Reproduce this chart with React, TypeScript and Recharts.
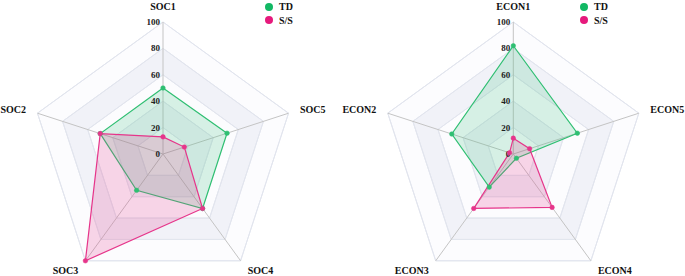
import React from 'react';
import { RadarChart, Radar, PolarGrid, PolarAngleAxis, PolarRadiusAxis, Legend } from 'recharts';

// categories listed clockwise from the top, as drawn
const socCategories = ['SOC1', 'SOC5', 'SOC4', 'SOC3', 'SOC2'];
const socTD = [50, 51, 51, 34, 50];
const socSS = [13, 17, 51, 100, 50];

const econCategories = ['ECON1', 'ECON5', 'ECON4', 'ECON3', 'ECON2'];
const econTD = [82, 51, 4, 31, 49];
const econSS = [12, 13, 50, 51, 3];

const radiusTicks = [0, 20, 40, 60, 80, 100];
const bandLevels = [100, 80, 60, 40, 20];
const seriesNames = ['TD', 'S/S'];

const GREEN = '#2fbf72';
const PINK = '#e6358a';
const LEG_GREEN = '#12b864';
const LEG_PINK = '#e6197c';
const BAND_DARK = '#f1f2f8';
const BAND_LIGHT = '#fcfcfe';
const GRID = '#e2e5ee';
const FONT = '"Liberation Serif", "Times New Roman", serif';

const R = 132;
const CY = 154;

function buildRows(cats: string[], a: number[], b: number[]) {
  return cats.map((c, i) => ({ name: c, TD: a[i], SS: b[i] }));
}

const AngleTick = (props: any) => {
  const { x, y, payload, ccx, ccy } = props;
  const dx = x - ccx;
  const dy = y - ccy;
  const len = Math.hypot(dx, dy) || 1;
  const ux = dx / len;
  const uy = dy / len;
  const rr = R + 12;
  const px = ccx + ux * rr;
  const py = ccy + uy * rr;
  const anchor = Math.abs(ux) < 0.1 ? 'middle' : ux > 0 ? 'start' : 'end';
  const baseline = uy < -0.9 ? 'auto' : 'central';
  return (
    <text x={px} y={py} textAnchor={anchor} dominantBaseline={baseline}
      fontFamily={FONT} fontWeight="bold" fontSize={10} fill="#111">
      {payload.value}
    </text>
  );
};

const RadiusTick = (props: any) => {
  const { x, y, payload } = props;
  return (
    <text x={x - 3} y={y} textAnchor="end" dominantBaseline="central"
      fontFamily={FONT} fontWeight="bold" fontSize={9} fill="#222">
      {payload.value}
    </text>
  );
};

const LegendContent = () => (
  <div style={{ fontFamily: FONT, fontWeight: 'bold', fontSize: 10, color: '#111', lineHeight: '13.5px' }}>
    {seriesNames.map((n, i) => (
      <div key={n} style={{ display: 'flex', alignItems: 'center', height: 13.5 }}>
        <svg width={10} height={10} style={{ marginRight: 5 }}>
          <circle cx={5} cy={5} r={4} fill={i === 0 ? LEG_GREEN : LEG_PINK} />
        </svg>
        <span>{n}</span>
      </div>
    ))}
  </div>
);

function RadarPanel({ cats, a, b, width, cx, legendLeft }: any) {
  const data = buildRows(cats, a, b);
  return (
    <RadarChart width={width} height={276} data={data} cx={cx} cy={CY} outerRadius={R}
      margin={{ top: 0, right: 0, bottom: 0, left: 0 }}>
      {bandLevels.map((lv, i) => (
        <Radar key={'band' + lv} dataKey={() => lv} stroke={GRID} strokeWidth={1}
          fill={i % 2 === 0 ? BAND_LIGHT : BAND_DARK} fillOpacity={1}
          dot={false} activeDot={false} legendType="none" isAnimationActive={false}
          {...({ zIndex: -200 } as any)} />
      ))}
      <PolarGrid gridType="polygon" radialLines={false} stroke={GRID} />
      <PolarGrid gridType="polygon" polarRadius={[]} stroke="#c4c4c4" />
      <PolarAngleAxis dataKey="name" axisLine={false} tickLine={false}
        tick={(p: any) => <AngleTick {...p} ccx={cx} ccy={CY} />} />
      <PolarRadiusAxis angle={90} domain={[0, 100]} ticks={radiusTicks as any} tickCount={6}
        axisLine={false} tickLine={false} tick={(p: any) => <RadiusTick {...p} />} />
      <Radar name="TD" dataKey="TD" stroke={GREEN} strokeWidth={1.2} fill={GREEN} fillOpacity={0.18}
        dot={{ r: 2.3, fill: GREEN, stroke: GREEN, strokeWidth: 0.5, fillOpacity: 1 }} isAnimationActive={false} />
      <Radar name="S/S" dataKey="SS" stroke={PINK} strokeWidth={1.2} fill={PINK} fillOpacity={0.2}
        dot={{ r: 2.3, fill: PINK, stroke: PINK, strokeWidth: 0.5, fillOpacity: 1 }} isAnimationActive={false} />
      <Legend content={<LegendContent />}
        wrapperStyle={{ position: 'absolute', left: legendLeft, top: 0, width: 60, height: 30 }} />
    </RadarChart>
  );
}

export default function App() {
  return (
    <div style={{ position: 'absolute', left: 0, top: 0, width: 685, height: 276, background: '#fff' }}>
      <div style={{ position: 'absolute', left: 0, top: 0 }}>
        <RadarPanel cats={socCategories} a={socTD} b={socSS} width={340} cx={163} legendLeft={264} />
      </div>
      <div style={{ position: 'absolute', left: 340, top: 0 }}>
        <RadarPanel cats={econCategories} a={econTD} b={econSS} width={345} cx={173.3} legendLeft={239} />
      </div>
    </div>
  );
}
